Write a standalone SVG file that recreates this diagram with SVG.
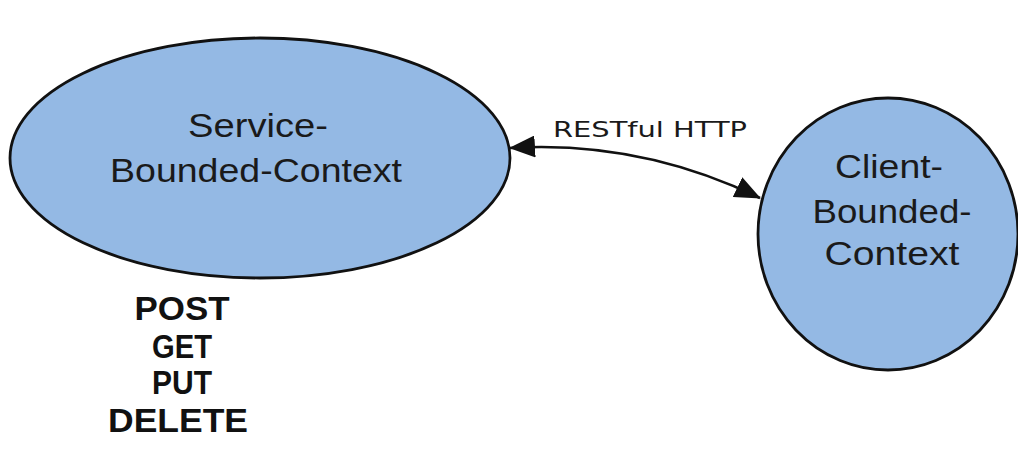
<svg xmlns="http://www.w3.org/2000/svg" width="1018" height="458" viewBox="0 0 1018 458">
  <style>
    .ctx { fill: #94b9e4; stroke: #111; stroke-width: 2.8; }
    .lbl { font-family: "Liberation Sans", Arial, sans-serif; font-size: 33px; fill: #1a1a1a; text-anchor: middle; }
    .edge { font-family: "DejaVu Sans", "Liberation Sans", sans-serif; font-size: 22px; fill: #1a1a1a; }
    .verb { font-family: "Liberation Sans", Arial, sans-serif; font-size: 33px; font-weight: bold; fill: #111; text-anchor: middle; }
    .conn { fill: none; stroke: #111; stroke-width: 2.6; }
  </style>
  <defs>
    <marker id="tip" viewBox="0 0 26 22" refX="25" refY="11" markerWidth="26" markerHeight="22" markerUnits="userSpaceOnUse" orient="auto-start-reverse">
      <path d="M0,0 L26,11 L0,22 Z" fill="#111"/>
    </marker>
  </defs>

  <rect width="1018" height="458" fill="#ffffff"/>

  <!-- service side -->
  <g id="service-bounded-context">
    <ellipse class="ctx" cx="260" cy="158" rx="250" ry="120"/>
    <text class="lbl" x="258" y="137" textLength="140" lengthAdjust="spacingAndGlyphs">Service-</text>
    <text class="lbl" x="256" y="182" textLength="292" lengthAdjust="spacingAndGlyphs">Bounded-Context</text>
  </g>

  <!-- client side -->
  <g id="client-bounded-context">
    <ellipse class="ctx" cx="888" cy="234" rx="130" ry="136"/>
    <text class="lbl" x="889" y="178" textLength="108" lengthAdjust="spacingAndGlyphs">Client-</text>
    <text class="lbl" x="892" y="223" textLength="159" lengthAdjust="spacingAndGlyphs">Bounded-</text>
    <text class="lbl" x="892" y="265" textLength="135" lengthAdjust="spacingAndGlyphs">Context</text>
  </g>

  <!-- HTTP verbs offered by the service -->
  <g id="http-verbs">
    <text class="verb" x="182" y="320" textLength="95" lengthAdjust="spacingAndGlyphs">POST</text>
    <text class="verb" x="182" y="358" textLength="60" lengthAdjust="spacingAndGlyphs">GET</text>
    <text class="verb" x="182" y="394" textLength="60" lengthAdjust="spacingAndGlyphs">PUT</text>
    <text class="verb" x="178" y="432" textLength="140" lengthAdjust="spacingAndGlyphs">DELETE</text>
  </g>

  <!-- connectors -->
  <g id="connectors">
    <path class="conn" d="M510,148 Q640,140 760,198" marker-start="url(#tip)" marker-end="url(#tip)"/>
    <text class="edge" x="553" y="137" textLength="194" lengthAdjust="spacingAndGlyphs">RESTful HTTP</text>
  </g>
</svg>
